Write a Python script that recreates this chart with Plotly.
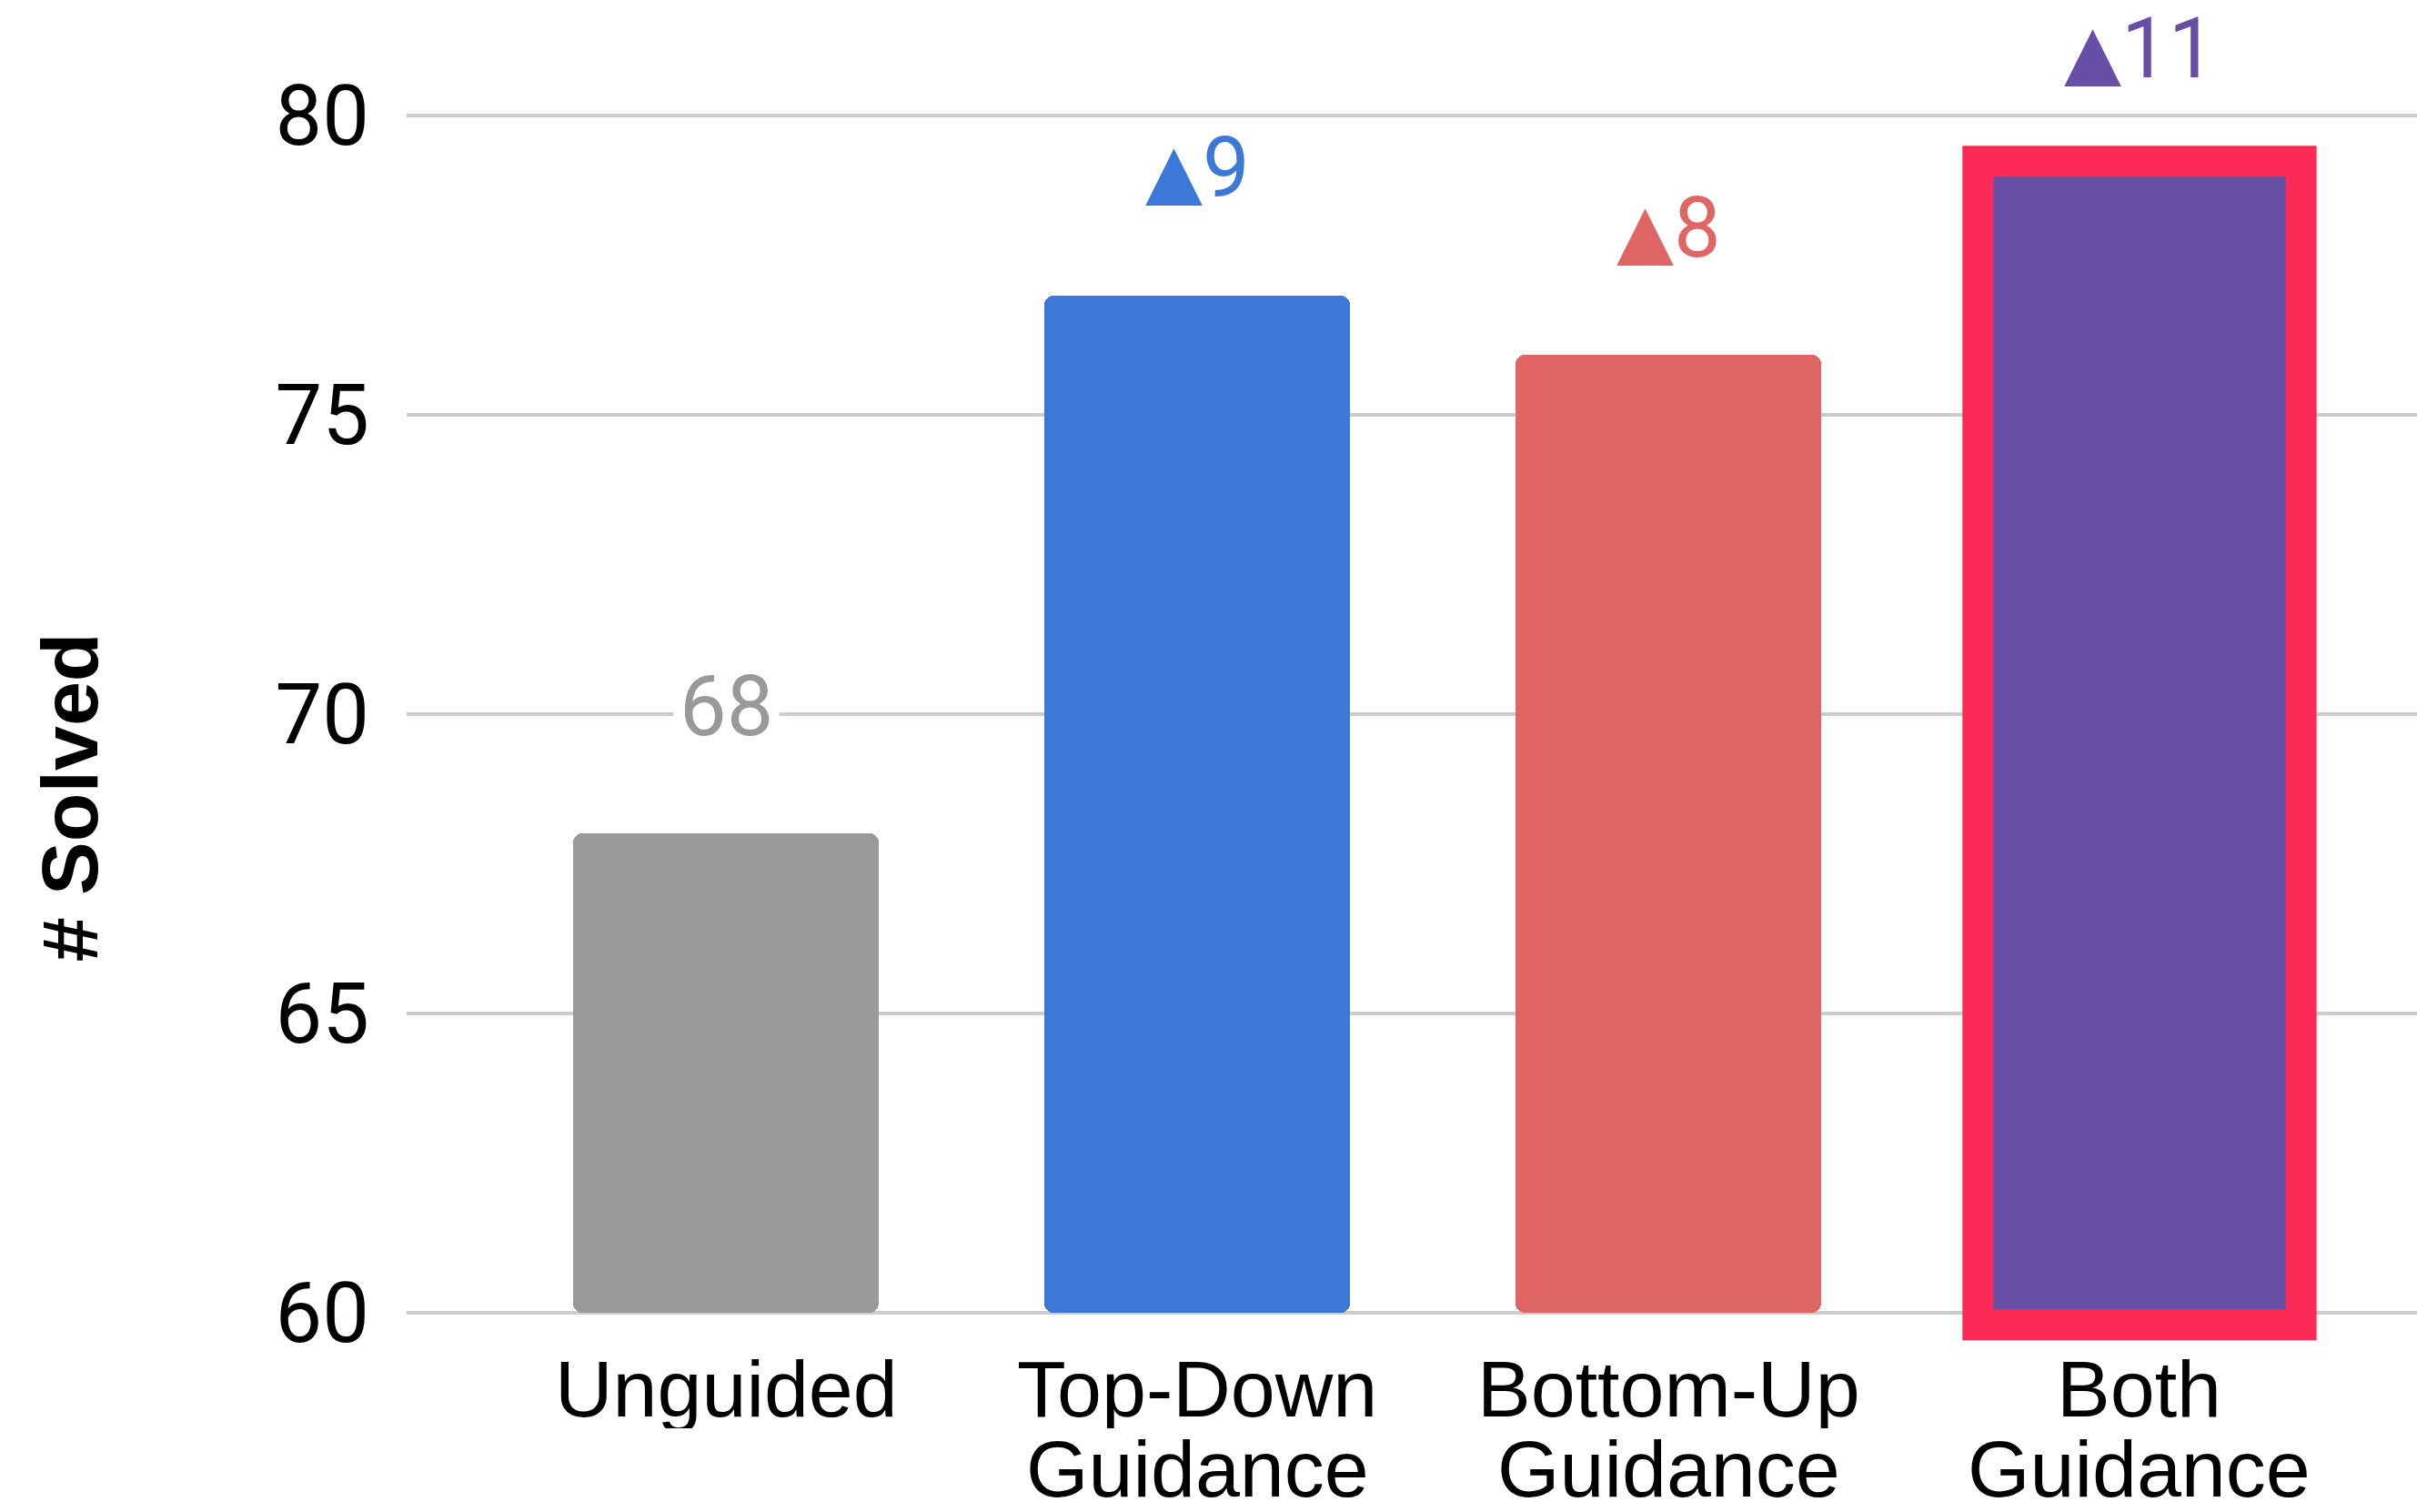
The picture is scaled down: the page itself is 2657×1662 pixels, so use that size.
import plotly.graph_objects as go

# Solved counts per guidance strategy
categories = ["Unguided", "Top-Down Guidance", "Bottom-Up Guidance", "Both Guidance"]
label_lines = [["Unguided"], ["Top-Down", "Guidance"], ["Bottom-Up", "Guidance"], ["Both", "Guidance"]]
solved = [68, 77, 76, 79]
colors = ["#999999", "#3c78d8", "#e06666", "#674ea7"]
y_ticks = [60, 65, 70, 75, 80]
highlight_index = 3

BAR_W = 0.65
Y_BASE = 60
TICK_FONT = "Roboto, Arial, sans-serif"
CAT_FONT = "Liberation Sans, Arial, sans-serif"
LINE_H = 88

x_pos = list(range(len(categories)))

fig = go.Figure()
fig.add_trace(go.Bar(
    x=x_pos,
    y=[v - Y_BASE for v in solved],
    base=Y_BASE,
    width=BAR_W,
    marker=dict(color=colors, line=dict(width=0), cornerradius=10),
    hoverinfo="skip",
    showlegend=False,
))

annotations = []

# value label over the baseline bar, gain labels over the others
for i, v in enumerate(solved):
    if i == 0:
        txt = str(v)
        bg = "white"
    else:
        txt = ("<span style=\"font-family:'DejaVu Sans';font-size:82px\">\u25B2</span>"
               + str(v - solved[0]))
        bg = "rgba(0,0,0,0)"
    annotations.append(dict(
        x=i, y=v, xref="x", yref="y", text=txt, showarrow=False,
        yanchor="middle", yshift=140,
        font=dict(family=TICK_FONT, size=92, color=colors[i]),
        bgcolor=bg, borderpad=6,
    ))

# two-line category labels under the bars
for i, lines in enumerate(label_lines):
    for j, line in enumerate(lines):
        annotations.append(dict(
            x=i, y=0, xref="x", yref="paper", text=line, showarrow=False,
            yanchor="middle", yshift=-44 - LINE_H * j, height=LINE_H,
            font=dict(family=CAT_FONT, size=88, color="black"),
        ))

# rotated y-axis title
annotations.append(dict(
    x=0, y=0.446, xref="paper", yref="paper", text="<b># Solved</b>",
    showarrow=False, textangle=-90, xshift=-371, xanchor="center",
    font=dict(family=CAT_FONT, size=88, color="black"),
))

# red marker frame around the best bar
hx = highlight_index
pad = 0.018
fig.add_shape(
    type="rect", xref="x", yref="y",
    x0=hx - BAR_W / 2 - pad, x1=hx + BAR_W / 2 + pad,
    y0=Y_BASE - 0.21, y1=solved[hx] + 0.24,
    line=dict(color="#fe2a56", width=34),
    fillcolor="rgba(0,0,0,0)", layer="above",
)

fig.update_layout(
    width=2657, height=1662,
    margin=dict(l=447, r=0, t=124, b=180),
    paper_bgcolor="white", plot_bgcolor="white",
    bargap=0,
    annotations=annotations,
    xaxis=dict(
        range=[-0.678, 3.589], showticklabels=False, showgrid=False,
        zeroline=False, showline=False, fixedrange=True,
    ),
    yaxis=dict(
        range=[59.4, 80.05], tickvals=y_ticks,
        ticktext=[str(t) for t in y_ticks],
        tickfont=dict(family=TICK_FONT, size=92, color="black"),
        showgrid=True, gridcolor="#cccccc", gridwidth=4,
        zeroline=False, showline=False, ticks="",
        ticklabelstandoff=40,
    ),
)

fig.write_html("out.html")
